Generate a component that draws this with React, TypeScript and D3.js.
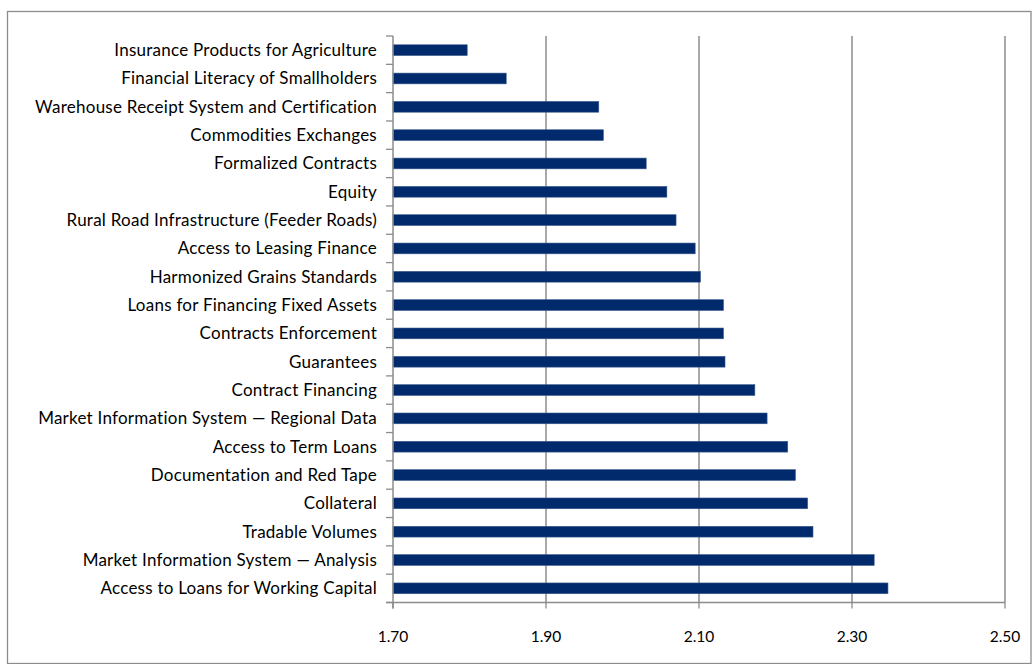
import React from "react";
import * as d3 from "d3";

const categories: string[] = [
  "Insurance Products for Agriculture",
  "Financial Literacy of Smallholders",
  "Warehouse Receipt System and Certification",
  "Commodities Exchanges",
  "Formalized Contracts",
  "Equity",
  "Rural Road Infrastructure (Feeder Roads)",
  "Access to Leasing Finance",
  "Harmonized Grains Standards",
  "Loans for Financing Fixed Assets",
  "Contracts Enforcement",
  "Guarantees",
  "Contract Financing",
  "Market Information System \u2014 Regional Data",
  "Access to Term Loans",
  "Documentation and Red Tape",
  "Collateral",
  "Tradable Volumes",
  "Market Information System \u2014 Analysis",
  "Access to Loans for Working Capital",
];

const values: number[] = [
  1.797, 1.848, 1.969, 1.975, 2.031, 2.058, 2.07, 2.095, 2.102, 2.132,
  2.132, 2.134, 2.173, 2.189, 2.216, 2.226, 2.242, 2.249, 2.329, 2.347,
];

const xTicks: number[] = [1.7, 1.9, 2.1, 2.3, 2.5];

const W = 1032;
const H = 664;
const left = 393;
const right = 1005;
const top = 36;
const bottom = 602.5;
const font = "Lato, 'Open Sans', sans-serif";
const gray = "#8c8c8c";

export default function App() {
  const x = d3.scaleLinear().domain([1.7, 2.5]).range([left, right]);
  const y = d3
    .scaleBand<string>()
    .domain(categories)
    .range([top, bottom])
    .paddingInner(0.62)
    .paddingOuter(0.31);
  const step = (bottom - top) / categories.length;
  const boundaries = d3.range(categories.length + 1).map((i) => top + i * step);

  return (
    <svg
      width={W}
      height={H}
      style={{ position: "absolute", left: 0, top: 0, background: "#fff" }}
    >
      <rect x={7.5} y={11.5} width={1023.5} height={652} fill="#fff" stroke={gray} strokeWidth={1.3} />
      {xTicks.slice(1).map((t) => (
        <line key={"g" + t} x1={x(t)} x2={x(t)} y1={top} y2={bottom} stroke={gray} strokeWidth={1.5} />
      ))}
      {categories.map((c, i) => (
        <rect
          key={c}
          x={x(1.7)}
          y={y(c)!}
          width={x(values[i]) - x(1.7)}
          height={y.bandwidth()}
          fill="#002a6c"
          stroke="#3b5a8c"
          strokeWidth={0.6}
        />
      ))}
      {/* y axis */}
      <line x1={left} x2={left} y1={top} y2={bottom + 6} stroke={gray} strokeWidth={1.5} />
      {boundaries.map((b, i) => (
        <line key={"yt" + i} x1={left - 7} x2={left} y1={b} y2={b} stroke={gray} strokeWidth={1.3} />
      ))}
      {/* x axis */}
      <line x1={left - 7} x2={right} y1={bottom} y2={bottom} stroke={gray} strokeWidth={1.5} />
      {xTicks.map((t) => (
        <line key={"xt" + t} x1={x(t)} x2={x(t)} y1={bottom} y2={bottom + 6} stroke={gray} strokeWidth={1.3} />
      ))}
      {xTicks.map((t) => (
        <text
          key={"xl" + t}
          x={x(t)}
          y={637}
          dy="0.35em"
          textAnchor="middle"
          fontFamily={font}
          fontSize={15.5}
          fill="#000"
        >
          {d3.format(".2f")(t)}
        </text>
      ))}
      {categories.map((c) => (
        <text
          key={"yl" + c}
          x={377}
          y={y(c)! + y.bandwidth() / 2}
          dy="0.35em"
          textAnchor="end"
          fontFamily={font}
          fontSize={17}
          letterSpacing={0.25}
          fill="#000"
        >
          {c}
        </text>
      ))}
    </svg>
  );
}
